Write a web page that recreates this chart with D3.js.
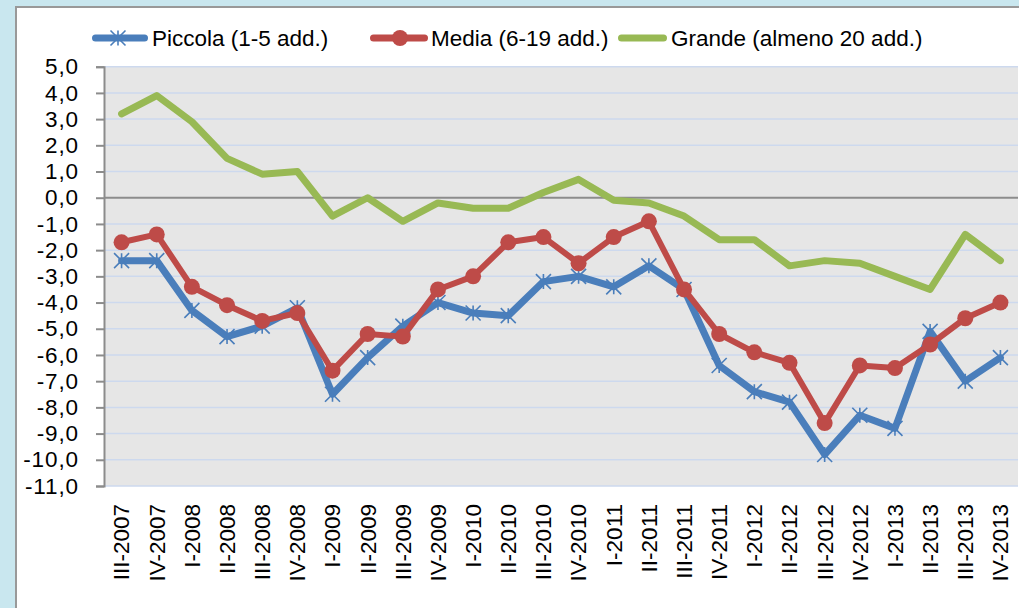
<!DOCTYPE html>
<html lang="it">
<head>
<meta charset="UTF-8">
<title>Piccola / Media / Grande</title>
<script src="https://d3js.org/d3.v7.min.js"></script>
<style>
  body { margin: 0; background: #c9e7ef; }
  svg { display: block; }
  text { font-family: "Liberation Sans", Arial, sans-serif; fill: #000; }
</style>
</head>
<body>
<div id="chart"></div>
<script>
const quarters = ["III-2007","IV-2007","I-2008","II-2008","III-2008","IV-2008","I-2009","II-2009","III-2009","IV-2009",
  "I-2010","II-2010","III-2010","IV-2010","I-2011","II-2011","III-2011","IV-2011","I-2012","II-2012",
  "III-2012","IV-2012","I-2013","II-2013","III-2013","IV-2013"];

const piccola = [-2.4,-2.4,-4.3,-5.3,-4.9,-4.2,-7.5,-6.1,-4.9,-4.0,
  -4.4,-4.5,-3.2,-3.0,-3.4,-2.6,-3.5,-6.4,-7.4,-7.8,
  -9.8,-8.3,-8.8,-5.1,-7.0,-6.1];
const media = [-1.7,-1.4,-3.4,-4.1,-4.7,-4.4,-6.6,-5.2,-5.3,-3.5,
  -3.0,-1.7,-1.5,-2.5,-1.5,-0.9,-3.5,-5.2,-5.9,-6.3,
  -8.6,-6.4,-6.5,-5.6,-4.6,-4.0];
const grande = [3.2,3.9,2.9,1.5,0.9,1.0,-0.7,0.0,-0.9,-0.2,
  -0.4,-0.4,0.2,0.7,-0.1,-0.2,-0.7,-1.6,-1.6,-2.6,
  -2.4,-2.5,-3.0,-3.5,-1.4,-2.4];

const yTicks = d3.range(-11, 6);
const seriesNames = ["Piccola (1-5 add.)", "Media (6-19 add.)", "Grande (almeno 20 add.)"];

const W = 1019, H = 608;
const plot = {left: 104, right: 1018, top: 66.7, bottom: 486};
const fs = 22.5;

const svg = d3.select("#chart").append("svg")
  .attr("width", W).attr("height", H);

// chart area with grey border
svg.append("rect").attr("x", 16).attr("y", 7).attr("width", W).attr("height", H)
  .attr("fill", "#fff").attr("stroke", "#999").attr("stroke-width", 2);

const x = d3.scalePoint().domain(quarters).range([plot.left, plot.right]).padding(0.5);
const y = d3.scaleLinear().domain([-11, 5]).range([plot.bottom, plot.top]);

svg.append("rect")
  .attr("x", plot.left).attr("y", plot.top)
  .attr("width", plot.right - plot.left).attr("height", plot.bottom - plot.top)
  .attr("fill", "#e6e6e6");

// gridlines
svg.append("g").selectAll("line").data(yTicks.filter(d => d !== 0)).join("line")
  .attr("x1", plot.left).attr("x2", plot.right)
  .attr("y1", d => y(d)).attr("y2", d => y(d))
  .attr("stroke", "#cdd9ee").attr("stroke-width", 1.5);

svg.append("line")
  .attr("x1", plot.left).attr("x2", plot.right)
  .attr("y1", y(0)).attr("y2", y(0))
  .attr("stroke", "#8c8c8c").attr("stroke-width", 2);

// y axis
const yAxis = svg.append("g")
  .attr("transform", `translate(${plot.left},0)`)
  .call(d3.axisLeft(y).tickValues(yTicks).tickSize(8).tickPadding(17)
    .tickFormat(d => d3.format(".1f")(d).replace(".", ",").replace("−", "-")));
yAxis.select(".domain").attr("stroke", "#8c8c8c").attr("stroke-width", 2);
yAxis.selectAll(".tick line").attr("stroke", "#8c8c8c").attr("stroke-width", 2);
yAxis.selectAll(".tick text").attr("font-size", fs).attr("font-family", "'Liberation Sans', Arial, sans-serif")
  .attr("fill", "#000").attr("letter-spacing", 0.9);

// x labels
svg.append("g").selectAll("text").data(quarters).join("text")
  .attr("transform", d => `translate(${x(d)},504) rotate(-90)`)
  .attr("text-anchor", "end")
  .attr("dy", "0.35em")
  .attr("font-size", fs)
  .text(d => d);

const colors = ["#4a7ebb", "#be4b48", "#98b954"];
const line = d3.line().x((d, i) => x(quarters[i])).y(d => y(d));

function star(g, cx, cy, r, color) {
  return g.append("path")
    .attr("d", `M${cx},${cy - r}L${cx},${cy + r}` +
      `M${cx - r},${cy - r}L${cx + r},${cy + r}` +
      `M${cx - r},${cy + r}L${cx + r},${cy - r}`)
    .attr("stroke", color).attr("stroke-width", 1.6).attr("fill", "none");
}

const dataSets = [piccola, media, grande];
// draw order: green first, blue, red on top
[2, 0, 1].forEach(k => {
  const g = svg.append("g");
  g.append("path").datum(dataSets[k])
    .attr("d", line)
    .attr("fill", "none")
    .attr("stroke", colors[k])
    .attr("stroke-width", k === 1 ? 6 : 7)
    .attr("stroke-linejoin", "round")
    .attr("stroke-linecap", "round");
  if (k === 0) {
    dataSets[k].forEach((v, i) => star(g, x(quarters[i]), y(v), 7.5, colors[k]));
  }
  if (k === 1) {
    g.selectAll("circle").data(dataSets[k]).join("circle")
      .attr("cx", (d, i) => x(quarters[i])).attr("cy", d => y(d))
      .attr("r", 8).attr("fill", colors[k]);
  }
});

// legend
const legend = [
  {x1: 95.5, x2: 144.5, mx: 118, tx: 152},
  {x1: 373.5, x2: 424.5, mx: 400, tx: 431},
  {x1: 621.5, x2: 663.5, mx: 642, tx: 671}
];
const ly = 38;
legend.forEach((l, k) => {
  const g = svg.append("g");
  g.append("line").attr("x1", l.x1).attr("x2", l.x2).attr("y1", ly).attr("y2", ly)
    .attr("stroke", colors[k]).attr("stroke-width", 7).attr("stroke-linecap", "round");
  if (k === 0) star(g, l.mx, ly, 7.5, colors[k]);
  if (k === 1) g.append("circle").attr("cx", l.mx).attr("cy", ly).attr("r", 8).attr("fill", colors[k]);
  g.append("text").attr("x", l.tx).attr("y", ly).attr("dy", "0.35em")
    .attr("font-size", fs).text(seriesNames[k]);
});
</script>
</body>
</html>
